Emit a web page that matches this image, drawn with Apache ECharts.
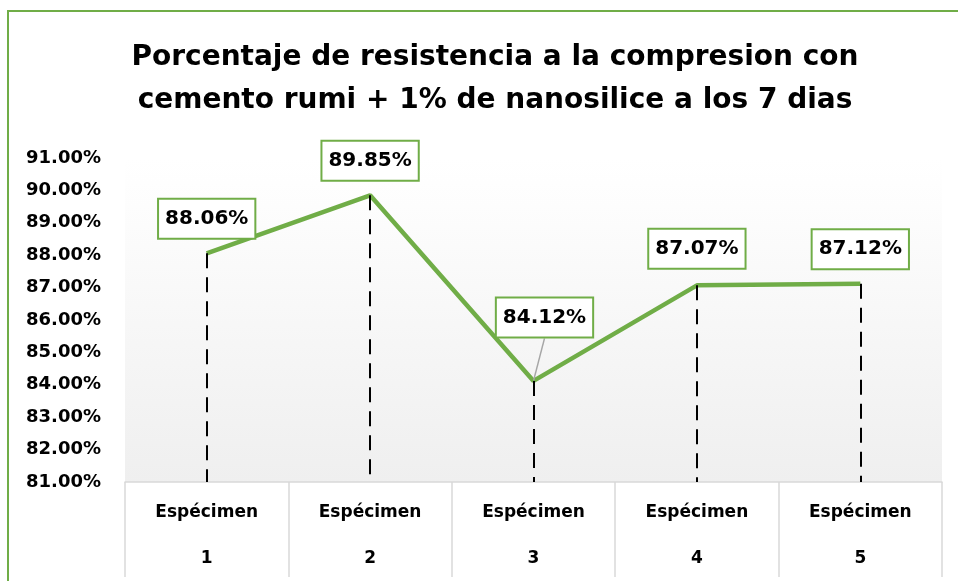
<!DOCTYPE html>
<html>
<head>
<meta charset="utf-8">
<script src="https://cdn.jsdelivr.net/npm/echarts@6/dist/echarts.min.js"></script>
<style>html,body{margin:0;padding:0;background:#fff;}#c{width:958px;height:581px;}</style>
</head>
<body>
<div id="c"></div>
<script>
var categories = ['1', '2', '3', '4', '5'];
var categoryPrefix = 'Espécimen';
var values = [88.06, 89.85, 84.12, 87.07, 87.12];
var yMin = 81, yMax = 91, yStep = 1;
var titleText = 'Porcentaje de resistencia a la compresion con\ncemento rumi + 1% de nanosilice a los 7 dias';

var FONT = '"DejaVu Sans", sans-serif';
var GREEN = '#70ad47';

var chart = echarts.init(document.getElementById('c'));

var dropLines = values.map(function (v, i) {
  return [{ coord: [i, v] }, { coord: [i, yMin] }];
});

var seriesData = values.map(function (v, i) {
  if (i === 2) {
    return { value: v, labelLine: { show: true, lineStyle: { color: '#a6a6a6', width: 1.5 } } };
  }
  return { value: v };
});

chart.setOption({
  animation: false,
  title: {
    text: titleText,
    left: 490,
    textAlign: 'center',
    top: 31,
    textStyle: { fontFamily: FONT, fontWeight: 'bold', fontSize: 28, lineHeight: 43, color: '#000' }
  },
  graphic: [{
    type: 'rect',
    shape: { x: 8, y: 11, width: 980, height: 620 },
    style: { fill: 'none', stroke: GREEN, lineWidth: 2 },
    silent: true
  }],
  grid: {
    left: 125, right: 16, top: 158, bottom: 99,
    show: true, borderWidth: 0,
    backgroundColor: {
      type: 'linear', x: 0, y: 0, x2: 0, y2: 1,
      colorStops: [
        { offset: 0, color: '#ffffff' },
        { offset: 0.15, color: '#fdfdfd' },
        { offset: 1, color: '#efefef' }
      ]
    }
  },
  xAxis: {
    type: 'category',
    data: categories,
    boundaryGap: true,
    axisLine: { show: true, lineStyle: { color: '#d9d9d9', width: 1.5 } },
    axisTick: { show: true, length: 95, lineStyle: { color: '#d9d9d9', width: 1.5 } },
    axisLabel: {
      margin: 19,
      formatter: function (v) { return categoryPrefix + '\n\n' + v; },
      fontFamily: FONT, fontWeight: 'bold', fontSize: 17, lineHeight: 23, color: '#000'
    },
    splitLine: { show: false }
  },
  yAxis: {
    type: 'value',
    min: yMin, max: yMax, interval: yStep,
    axisLine: { show: false },
    axisTick: { show: false },
    splitLine: { show: false },
    axisLabel: {
      margin: 24,
      formatter: function (v) { return v.toFixed(2) + '%'; },
      fontFamily: FONT, fontWeight: 'bold', fontSize: 18, color: '#000'
    }
  },
  series: [{
    type: 'line',
    data: seriesData,
    symbol: 'circle',
    symbolSize: 1,
    showSymbol: true,
    itemStyle: { color: 'rgba(0,0,0,0)' },
    lineStyle: { color: GREEN, width: 4.5 },
    z: 3,
    label: {
      show: true,
      position: 'top',
      distance: 15,
      formatter: function (p) { return p.value.toFixed(2) + '%'; },
      fontFamily: FONT, fontWeight: 'bold', fontSize: 20, color: '#000',
      backgroundColor: '#fff',
      borderColor: GREEN, borderWidth: 2,
      padding: [9, 6, 9, 6]
    },
    labelLayout: function (p) {
      if (p.dataIndex === 2) return { dx: 11, dy: -29 };
      if (p.dataIndex === 3) return { dy: -2 };
      return {};
    },
    markLine: {
      silent: true,
      symbol: ['none', 'none'],
      label: { show: false },
      lineStyle: { color: '#000', type: [15, 9], width: 2 },
      data: dropLines
    }
  }]
});
</script>
</body>
</html>
